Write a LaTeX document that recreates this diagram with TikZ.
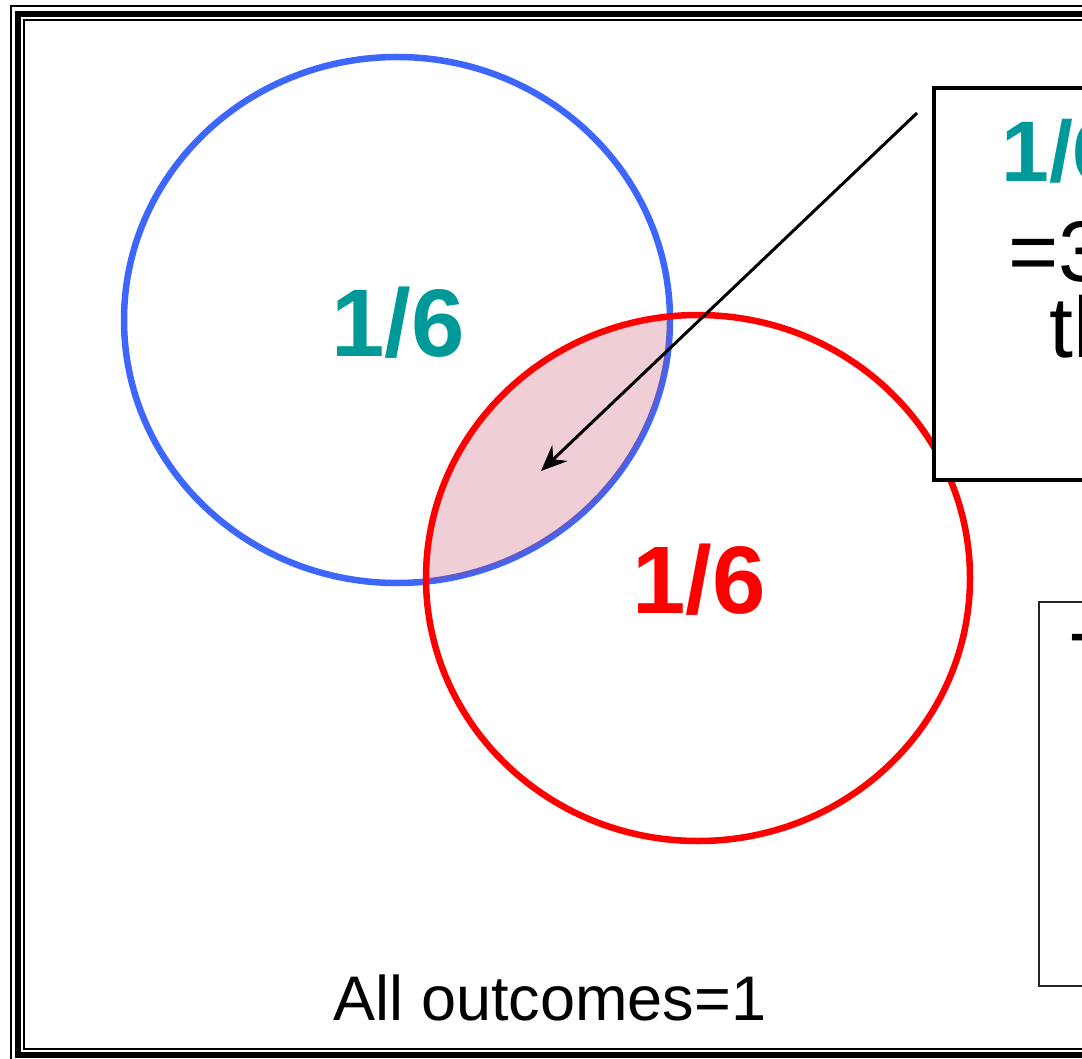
\documentclass[tikz,border=0pt]{standalone}
\usepackage{fontspec}
\setmainfont{Liberation Sans}
\usetikzlibrary{arrows.meta}
\definecolor{setblue}{RGB}{61,102,250}
\definecolor{setred}{RGB}{255,0,0}
\definecolor{probteal}{RGB}{0,153,153}
\definecolor{lenspink}{RGB}{190,60,90}
\newcommand{\probfont}{\fontsize{96}{110}\selectfont\bfseries}
\newcommand{\notefont}{\fontsize{86}{100}\selectfont}
\newcommand{\basefont}{\fontsize{63}{75}\selectfont}
\tikzset{
  setA/.style={draw=setblue, line width=6.5pt},
  setB/.style={draw=setred, line width=6.5pt},
  prob/.style={font=\probfont, inner sep=0pt, anchor=base},
  note/.style={font=\notefont, inner sep=0pt, anchor=base west},
  notebox/.style={draw=black, fill=white, line width=4pt},
  ptr/.style={-{Stealth[length=26pt,width=22pt,inset=9pt]}, line width=3pt},
}
\begin{document}
\begin{tikzpicture}[x=1pt, y=-1pt]
  \useasboundingbox (0,0) rectangle (1082,1059);
  \clip (0,0) rectangle (1082,1059);
  % slide frame
  \draw[line width=2pt] (11,6) rectangle (1200,1063);
  \draw[line width=6pt] (18,14) rectangle (1200,1055);
  \draw[line width=2pt] (24,20) rectangle (1200,1049);
  % the two events
  \draw[setA] (397,320) ellipse [x radius=273, y radius=263];
  \begin{scope}
    \clip (397,320) ellipse [x radius=273, y radius=263];
    \fill[lenspink, opacity=0.25] (698,578) ellipse [x radius=272, y radius=263];
  \end{scope}
  \draw[setB] (698,578) ellipse [x radius=272, y radius=263];
  \node[prob, text=probteal] (pA) at (398,356) {1/6};
  \node[prob, text=setred] (pB) at (699,613) {1/6};
  % callout boxes
  \draw[notebox] (934,88) rectangle (1200,480);
  \node[note, font=\notefont\bfseries, text=probteal] (lineA) at (1001,182) {1/6};
  \node[note] (lineB) at (1008,282) {=3};
  \node[note] (lineC) at (1049,358) {th};
  \draw[notebox, line width=2pt, draw=black!85] (1039,602) rectangle (1200,986);
  \node[note] (lineD) at (1070,693) {T};
  % pointer into the overlap
  \coordinate (ptrtail) at (917,113);
  \coordinate (ptrtip) at (541,471);
  \draw[ptr] (ptrtail) -- (ptrtip);
  \node[font=\basefont, inner sep=0pt, anchor=base] (total) at (550,1020) {All outcomes=1};
\end{tikzpicture}
\end{document}
